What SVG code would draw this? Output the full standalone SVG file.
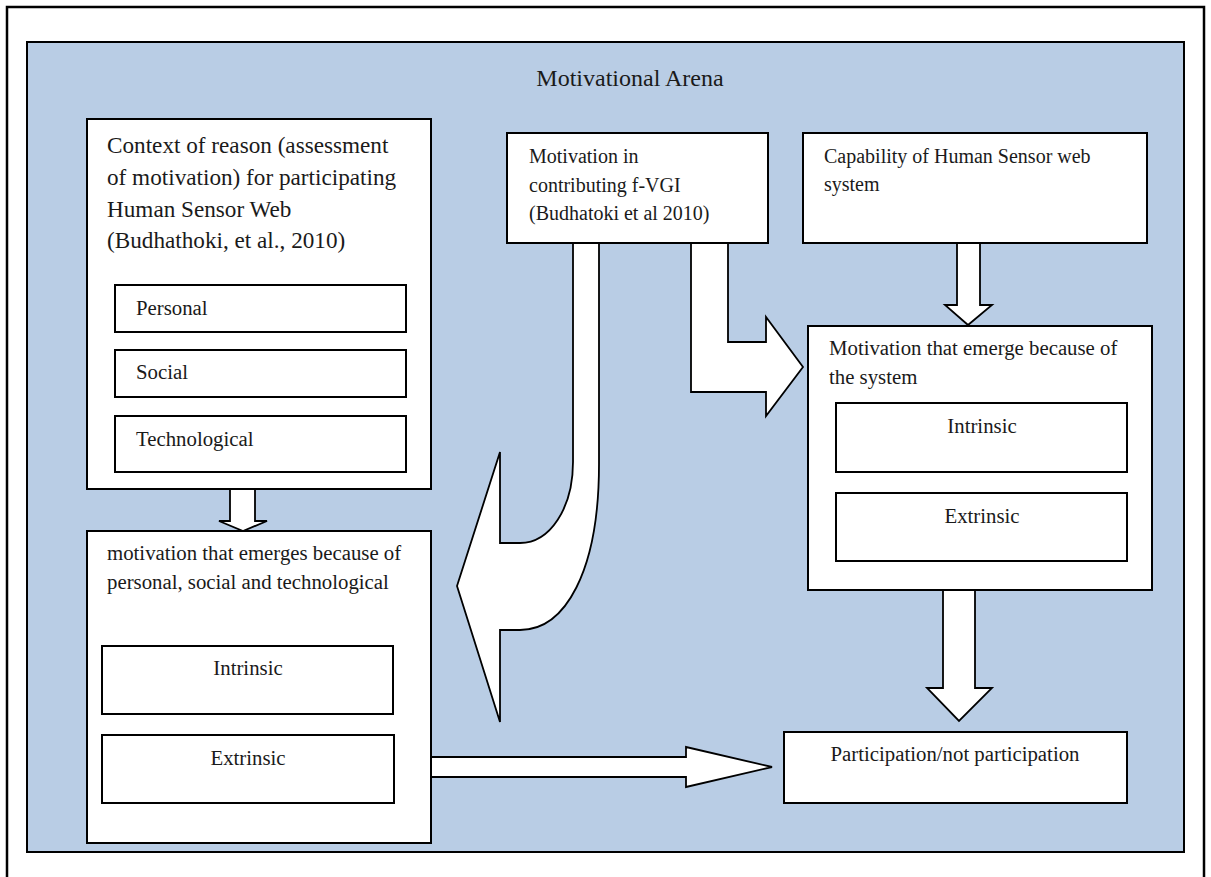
<svg xmlns="http://www.w3.org/2000/svg" width="1211" height="877" viewBox="0 0 1211 877">
  <style>
    text { font-family: "Liberation Serif", "Times New Roman", serif; fill: #1a1a1a; }
    .box { fill: #ffffff; stroke: #000000; stroke-width: 2; }
    .arrow { fill: #ffffff; stroke: #000000; stroke-width: 1.8; stroke-linejoin: miter; }
    .t20 { font-size: 20px; }
    .t21 { font-size: 20.8px; }
    .t23 { font-size: 23.2px; }
    .mid { text-anchor: middle; }
  </style>

  <!-- page frame -->
  <rect x="0" y="0" width="1211" height="877" fill="#ffffff"/>
  <rect x="7" y="7" width="1197" height="890" fill="none" stroke="#000000" stroke-width="2.5"/>

  <!-- arena background -->
  <g id="arena">
    <rect x="27" y="42" width="1157" height="810" fill="#b9cde5" stroke="#000000" stroke-width="2"/>
    <text x="630" y="86" class="mid" style="font-size:24px">Motivational Arena</text>
  </g>

  <!-- block arrows between the boxes -->
  <g id="connectors">
    <!-- context box down to personal/social/technological motivation -->
    <path class="arrow" d="M230,489 L255,489 L255,521 L267,521 L243,531 L219,521 L230,521 Z"/>
    <!-- capability box down to system motivation -->
    <path class="arrow" d="M957,243 L980,243 L980,305 L992,305 L968,325 L945,305 L957,305 Z"/>
    <!-- system motivation down to participation -->
    <path class="arrow" d="M943,590 L975,590 L975,688 L992,688 L959,721 L927,688 L943,688 Z"/>
    <!-- bent arrow from f-VGI box to system motivation -->
    <path class="arrow" d="M691,243 L728,243 L728,342 L766,342 L766,317 L803,367 L766,416 L766,392 L691,392 Z"/>
    <!-- curved arrow from f-VGI box to left motivation box -->
    <path class="arrow" d="M573,243 L573,462 C573,508 550,543 520,543 L500,543 L500,452 L457,586 L500,722 L500,630 L520,630 C565,630 599,572 599,464 L599,243 Z"/>
    <!-- left motivation box to participation -->
    <path class="arrow" d="M431,757 L686,757 L686,747 L772,767 L686,787 L686,777 L431,777 Z"/>
  </g>

  <g id="context-box">
    <rect class="box" x="87" y="119" width="344" height="370"/>
    <text class="t23" x="107" y="153">Context of reason (assessment</text>
    <text class="t23" x="107" y="185">of motivation) for participating</text>
    <text class="t23" x="107" y="217">Human Sensor Web</text>
    <text class="t23" x="107" y="248">(Budhathoki, et al., 2010)</text>
  </g>
  <g id="personal">
    <rect class="box" x="115" y="285" width="291" height="47"/>
    <text class="t21" x="136" y="315">Personal</text>
  </g>
  <g id="social">
    <rect class="box" x="115" y="350" width="291" height="47"/>
    <text class="t21" x="136" y="379">Social</text>
  </g>
  <g id="technological">
    <rect class="box" x="115" y="416" width="291" height="56"/>
    <text class="t21" x="136" y="446">Technological</text>
  </g>

  <g id="fvgi-box">
    <rect class="box" x="507" y="133" width="261" height="110"/>
    <text class="t20" x="529" y="163">Motivation in</text>
    <text class="t20" x="529" y="192">contributing f-VGI</text>
    <text class="t20" x="529" y="220">(Budhatoki et al 2010)</text>
  </g>

  <g id="capability-box">
    <rect class="box" x="803" y="133" width="344" height="110"/>
    <text class="t20" x="824" y="163">Capability of Human Sensor web</text>
    <text class="t20" x="824" y="191">system</text>
  </g>

  <g id="system-motivation">
    <rect class="box" x="808" y="326" width="344" height="264"/>
    <text class="t21" x="829" y="355">Motivation that emerge because of</text>
    <text class="t21" x="829" y="384">the system</text>
  </g>
  <g id="system-intrinsic">
    <rect class="box" x="836" y="403" width="291" height="69"/>
    <text class="t21 mid" x="982" y="433">Intrinsic</text>
  </g>
  <g id="system-extrinsic">
    <rect class="box" x="836" y="493" width="291" height="68"/>
    <text class="t21 mid" x="982" y="523">Extrinsic</text>
  </g>

  <g id="personal-motivation">
    <rect class="box" x="87" y="531" width="344" height="312"/>
    <text class="t21" x="107" y="560">motivation that emerges because of</text>
    <text class="t21" x="107" y="589">personal, social and technological</text>
  </g>
  <g id="personal-intrinsic">
    <rect class="box" x="102" y="646" width="291" height="68"/>
    <text class="t21 mid" x="248" y="675">Intrinsic</text>
  </g>
  <g id="personal-extrinsic">
    <rect class="box" x="102" y="735" width="292" height="68"/>
    <text class="t21 mid" x="248" y="765">Extrinsic</text>
  </g>

  <g id="participation">
    <rect class="box" x="784" y="732" width="343" height="71"/>
    <text class="t21 mid" x="955" y="761">Participation/not participation</text>
  </g>
</svg>
